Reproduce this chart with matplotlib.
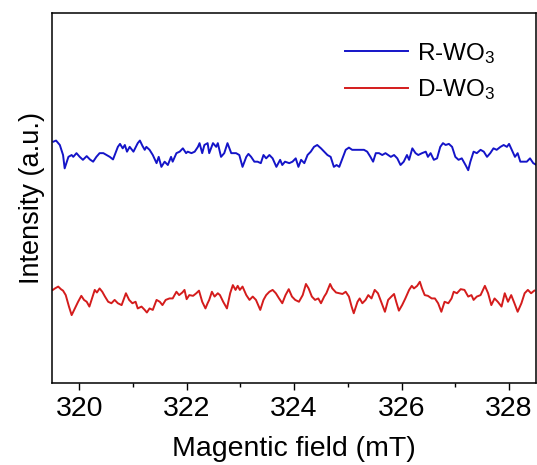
import matplotlib
matplotlib.use("Agg")
import matplotlib.pyplot as plt
from matplotlib.ticker import MultipleLocator

plt.rcParams["font.family"] = ["Liberation Sans", "DejaVu Sans"]
plt.rcParams["mathtext.fontset"] = "custom"
plt.rcParams["mathtext.rm"] = "Liberation Sans"
plt.rcParams["mathtext.it"] = "Liberation Sans"

# EPR traces (field in mT, intensity in arbitrary units)
field_r = [
    319.52, 319.57, 319.64, 319.70, 319.73, 319.80, 319.86, 319.89, 319.95, 320.01,
    320.07, 320.14, 320.20, 320.26, 320.32, 320.38, 320.45, 320.51, 320.57, 320.63,
    320.72, 320.76, 320.81, 320.85, 320.89, 320.94, 321.01, 321.09, 321.13, 321.18,
    321.22, 321.25, 321.31, 321.37, 321.44, 321.48, 321.53, 321.59, 321.65, 321.71,
    321.74, 321.81, 321.87, 321.93, 321.99, 322.02, 322.09, 322.15, 322.21, 322.24,
    322.29, 322.33, 322.39, 322.42, 322.49, 322.55, 322.58, 322.64, 322.70, 322.76,
    322.83, 322.92, 322.98, 323.04, 323.11, 323.15, 323.20, 323.26, 323.32, 323.38,
    323.43, 323.48, 323.54, 323.60, 323.67, 323.74, 323.78, 323.83, 323.91, 323.97,
    324.03, 324.08, 324.13, 324.19, 324.25, 324.31, 324.37, 324.43, 324.50, 324.56,
    324.62, 324.68, 324.74, 324.79, 324.84, 324.90, 324.96, 325.02, 325.08, 325.18,
    325.27, 325.30, 325.36, 325.42, 325.47, 325.52, 325.58, 325.64, 325.70, 325.80,
    325.86, 325.92, 325.98, 326.04, 326.10, 326.14, 326.20, 326.26, 326.31, 326.38,
    326.45, 326.49, 326.54, 326.60, 326.66, 326.72, 326.77, 326.82, 326.88, 326.94,
    327.00, 327.06, 327.12, 327.19, 327.24, 327.28, 327.34, 327.40, 327.47, 327.53,
    327.59, 327.65, 327.71, 327.77, 327.84, 327.90, 327.96, 328.00, 328.05, 328.11,
    328.16, 328.21, 328.27, 328.33, 328.39, 328.45, 328.50,
]
r_wo3 = [
    65.2, 65.5, 64.3, 61.6, 58.0, 61.1, 61.6, 61.1, 62.1, 61.1,
    60.3, 61.3, 60.4, 59.8, 61.1, 62.1, 62.1, 61.6, 61.1, 60.4,
    63.8, 64.6, 63.4, 64.3, 62.5, 63.8, 62.5, 64.8, 65.5, 64.0,
    63.0, 63.8, 63.0, 61.6, 59.4, 61.1, 58.4, 59.8, 58.9, 61.1,
    59.8, 62.1, 62.5, 63.4, 62.1, 62.5, 62.1, 62.5, 63.8, 64.8,
    62.1, 64.3, 64.8, 62.1, 64.8, 63.8, 64.8, 61.1, 62.1, 64.8,
    62.1, 62.1, 61.6, 58.4, 61.1, 61.9, 61.1, 59.8, 59.8, 59.4,
    61.6, 60.7, 61.6, 60.7, 58.4, 60.3, 58.9, 59.8, 59.4, 59.8,
    60.7, 58.4, 60.3, 59.4, 61.6, 62.5, 63.8, 64.3, 63.4, 62.5,
    61.6, 61.1, 58.4, 58.9, 58.4, 60.7, 63.0, 63.6, 63.0, 63.0,
    63.0, 63.0, 62.5, 61.1, 59.8, 62.1, 62.1, 61.6, 62.1, 61.1,
    61.6, 60.7, 58.9, 59.8, 61.6, 60.3, 63.4, 62.1, 61.6, 62.1,
    62.5, 61.1, 62.1, 60.3, 60.7, 63.8, 64.8, 64.3, 64.6, 63.8,
    61.1, 60.3, 60.7, 58.9, 57.5, 59.8, 62.5, 62.1, 63.0, 62.5,
    61.1, 62.1, 63.4, 63.0, 63.8, 64.3, 63.8, 64.6, 63.0, 61.1,
    62.1, 59.8, 59.8, 59.8, 60.7, 59.4, 59.0,
]

field_d = [
    319.51, 319.55, 319.61, 319.66, 319.70, 319.75, 319.81, 319.86, 319.92, 319.98,
    320.04, 320.09, 320.14, 320.19, 320.25, 320.29, 320.33, 320.38, 320.43, 320.48,
    320.54, 320.60, 320.66, 320.72, 320.79, 320.87, 320.93, 320.99, 321.05, 321.09,
    321.16, 321.22, 321.26, 321.31, 321.37, 321.44, 321.50, 321.55, 321.61, 321.68,
    321.74, 321.81, 321.86, 321.92, 321.96, 322.00, 322.05, 322.12, 322.18, 322.23,
    322.29, 322.35, 322.39, 322.42, 322.47, 322.52, 322.58, 322.62, 322.68, 322.75,
    322.81, 322.86, 322.91, 322.95, 322.99, 323.04, 323.11, 323.17, 323.23, 323.29,
    323.37, 323.43, 323.48, 323.54, 323.60, 323.66, 323.72, 323.78, 323.84, 323.90,
    323.96, 324.02, 324.09, 324.16, 324.22, 324.27, 324.33, 324.39, 324.45, 324.50,
    324.56, 324.60, 324.67, 324.71, 324.78, 324.84, 324.90, 324.96, 325.02, 325.07,
    325.11, 325.18, 325.22, 325.27, 325.33, 325.38, 325.44, 325.50, 325.56, 325.63,
    325.69, 325.75, 325.81, 325.86, 325.90, 325.95, 326.01, 326.07, 326.14, 326.19,
    326.23, 326.29, 326.34, 326.38, 326.43, 326.49, 326.56, 326.62, 326.68, 326.74,
    326.80, 326.87, 326.93, 326.97, 327.03, 327.10, 327.17, 327.24, 327.30, 327.34,
    327.40, 327.47, 327.55, 327.61, 327.67, 327.73, 327.79, 327.86, 327.92, 327.98,
    328.04, 328.10, 328.16, 328.23, 328.29, 328.35, 328.41, 328.47,
]
d_wo3 = [
    25.2, 25.6, 26.1, 25.4, 25.0, 23.8, 20.7, 18.4, 20.2, 22.0,
    23.6, 22.5, 22.0, 20.7, 23.4, 25.2, 24.5, 25.6, 24.7, 23.4,
    22.0, 21.6, 22.5, 21.6, 21.1, 24.3, 22.5, 21.6, 22.0, 20.2,
    20.7, 19.8, 19.1, 20.2, 19.8, 22.5, 22.0, 21.1, 22.5, 22.9,
    22.9, 24.7, 23.8, 24.5, 25.2, 22.7, 23.8, 23.6, 24.3, 25.0,
    22.0, 20.2, 21.6, 22.5, 24.7, 23.4, 24.3, 23.8, 22.0, 20.2,
    24.3, 26.5, 25.2, 26.3, 25.2, 26.1, 23.8, 22.5, 23.4, 22.5,
    19.8, 22.5, 23.8, 24.7, 25.2, 24.3, 22.9, 21.6, 23.8, 25.4,
    23.4, 22.5, 22.0, 23.8, 26.8, 25.6, 23.4, 22.5, 22.9, 21.6,
    23.4, 24.3, 26.8, 25.6, 24.5, 24.3, 24.1, 24.7, 23.4, 20.7,
    18.9, 22.0, 22.9, 21.6, 22.5, 23.8, 22.9, 25.2, 24.3, 21.6,
    19.3, 22.5, 23.4, 24.1, 22.0, 19.6, 21.1, 22.9, 25.2, 26.3,
    25.6, 26.3, 27.4, 25.6, 23.8, 23.6, 22.9, 22.9, 21.6, 19.3,
    22.0, 21.6, 22.9, 24.7, 24.3, 25.4, 25.2, 23.4, 23.8, 22.5,
    23.4, 23.8, 26.3, 24.3, 21.1, 22.9, 22.0, 20.7, 24.3, 22.0,
    23.8, 21.6, 19.3, 21.6, 24.3, 25.2, 24.3, 25.0,
]

fig = plt.figure(figsize=(5.37, 4.65), dpi=100)
ax = fig.add_axes([0.0974, 0.1757, 0.9006, 0.797])

ax.plot(field_r, r_wo3, color="#1414c8", lw=1.4, label="R-WO$_3$")
ax.plot(field_d, d_wo3, color="#d41c1c", lw=1.4, label="D-WO$_3$")

ax.set_xlim(319.5, 328.5)
ax.set_ylim(0, 100)
ax.set_yticks([])
ax.xaxis.set_major_locator(MultipleLocator(2))
ax.xaxis.set_minor_locator(MultipleLocator(1))
ax.tick_params(axis="x", which="major", direction="out", length=5, width=1.0,
               labelsize=20.5, pad=4)
ax.tick_params(axis="x", which="minor", direction="out", length=3, width=1.0)
for side in ax.spines.values():
    side.set_linewidth(1.1)

ax.set_xlabel("Magentic field (mT)", fontsize=20.5, labelpad=10)
ax.set_ylabel("Intensity (a.u.)", fontsize=19.5, labelpad=5)

ax.legend(loc="upper right", bbox_to_anchor=(0.936, 0.95), frameon=False,
          fontsize=17.5, handlelength=2.6, handletextpad=0.37, labelspacing=0.48,
          borderaxespad=0)

fig.savefig("out.png", dpi=100)
